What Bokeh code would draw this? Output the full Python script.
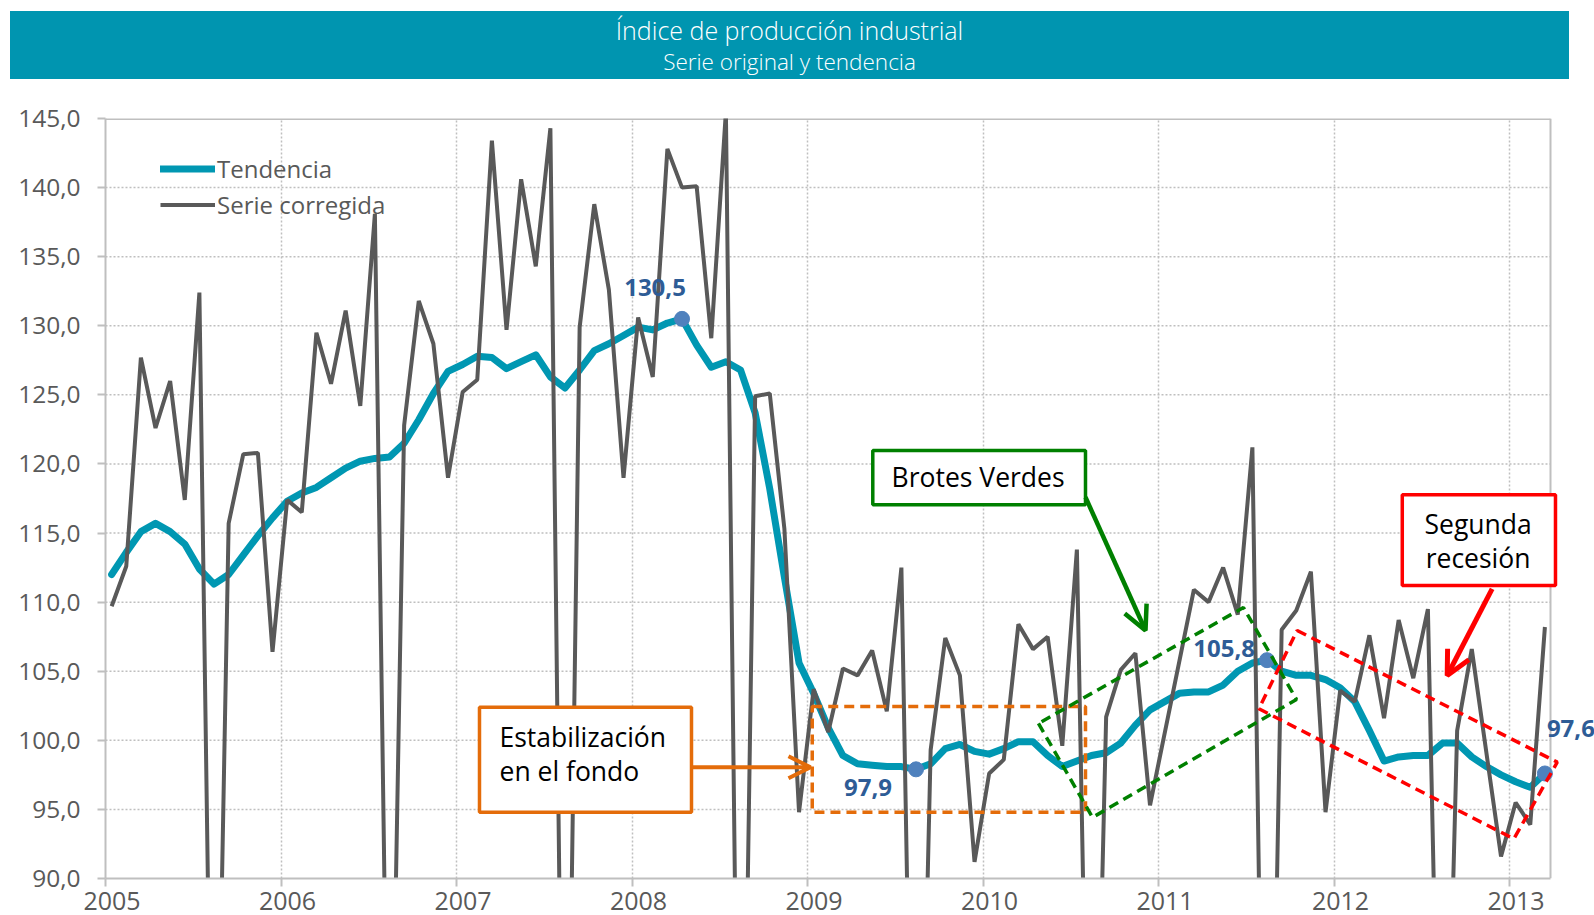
from bokeh.plotting import figure
from bokeh.models import (Range1d, FixedTicker, Legend, LegendItem, Arrow, OpenHead, Div, LinearAxis)
from bokeh.layouts import column
from bokeh.embed import file_html
from bokeh.resources import INLINE
from bokeh.core.properties import value

# ---------------- data ----------------
anios = [2005, 2006, 2007, 2008, 2009, 2010, 2011, 2012, 2013]
meses = [f"{a}-{m:02d}" for a in anios for m in range(1, 13)][:99]

serie_corregida = [
    109.7, 112.6, 127.7, 122.6, 126.0, 117.4, 132.4, 59.0, 115.7, 120.7, 120.8, 106.4,   # 2005
    117.4, 116.5, 129.5, 125.8, 131.1, 124.2, 138.1, 64.0, 122.8, 131.8, 128.7, 119.0,   # 2006
    125.2, 126.1, 143.4, 129.7, 140.6, 134.3, 144.3, 55.0, 129.9, 138.8, 132.6, 119.0,   # 2007
    130.6, 126.3, 142.8, 140.0, 140.1, 129.1, 145.5, 55.0, 124.9, 125.1, 115.3, 94.8,    # 2008
    103.7, 100.6, 105.2, 104.7, 106.5, 102.1, 112.5, 54.0, 99.3, 107.4, 104.7, 91.2,     # 2009
    97.6, 98.6, 108.4, 106.6, 107.5, 99.6, 113.8, 57.0, 101.7, 105.1, 106.3, 95.3,       # 2010
    100.5, 105.7, 110.9, 110.0, 112.5, 109.1, 121.2, 51.0, 108.0, 109.4, 112.2, 94.8,    # 2011
    103.6, 102.8, 107.6, 101.6, 108.7, 104.5, 109.5, 60.0, 100.7, 106.6, 99.1, 91.6,     # 2012
    95.5, 93.9, 108.2,                                                                   # 2013
]

tendencia = [
    112.0, 113.6, 115.1, 115.7, 115.1, 114.2, 112.4, 111.3, 112.0, 113.4, 114.8, 116.1,  # 2005
    117.3, 117.9, 118.3, 119.0, 119.7, 120.2, 120.4, 120.5, 121.5, 123.2, 125.1, 126.7,  # 2006
    127.2, 127.8, 127.7, 126.9, 127.4, 127.9, 126.3, 125.5, 126.8, 128.2, 128.7, 129.3,  # 2007
    129.9, 129.7, 130.2, 130.5, 128.6, 127.0, 127.4, 126.8, 123.7, 118.2, 111.8, 105.6,  # 2008
    103.4, 100.9, 98.9, 98.3, 98.2, 98.1, 98.1, 97.9, 98.3, 99.4, 99.7, 99.2,            # 2009
    99.0, 99.4, 99.9, 99.9, 98.9, 98.1, 98.5, 98.9, 99.1, 99.8, 101.1, 102.2,            # 2010
    102.8, 103.4, 103.5, 103.5, 104.0, 105.0, 105.6, 105.8, 105.0, 104.7, 104.7, 104.4,  # 2011
    103.8, 102.8, 100.7, 98.5, 98.8, 98.9, 98.9, 99.8, 99.8, 98.8, 98.1, 97.5,           # 2012
    97.0, 96.6, 97.6,                                                                    # 2013
]

etiquetas_idx = [39, 55, 79, 98]          # Abr-2008, Ago-2009, Ago-2011, Mar-2013
y_ticks = [90, 95, 100, 105, 110, 115, 120, 125, 130, 135, 140, 145]

# ---------------- geometry ----------------
pos = [int(s[:4]) + (int(s[5:7]) - 1 + 0.42) / 12 for s in meses]
X_END_FRAME = 2013.2336      # right border of the plot box
X_END_RANGE = 2013.4843      # frame extends to canvas edge
LABEL_SHIFT = 0.037          # year labels sit slightly right of the year ticks

FONT = value("Open Sans")
GRAY_TXT = "#595959"
AXIS_COL = "#BFBFBF"
TEAL = "#0097B2"

p = figure(width=1594, height=836,
           x_range=Range1d(2005, X_END_RANGE), y_range=Range1d(90, 145),
           output_backend="svg", toolbar_location=None,
           min_border_left=105, min_border_right=0, min_border_top=39, min_border_bottom=37)
p.outline_line_color = None
p.background_fill_color = "white"
p.border_fill_color = "white"

# grid
p.ygrid.visible = False
p.xgrid.ticker = FixedTicker(ticks=anios[1:])
p.xgrid.grid_line_color = AXIS_COL
p.xgrid.grid_line_dash = "2 2"
p.xgrid.grid_line_width = 1.5

hx = [[2005, X_END_FRAME] for v in y_ticks[1:-1]]
hy = [[v, v] for v in y_ticks[1:-1]]
p.multi_line(hx, hy, line_color=AXIS_COL, line_dash="2 2", line_width=1.5)
# box top / right
p.line([2005, X_END_FRAME], [145, 145], line_color=AXIS_COL, line_width=3)
p.line([X_END_FRAME, X_END_FRAME], [90, 145], line_color=AXIS_COL, line_width=2)

# x axis A: line + year ticks (no labels)
xa = p.xaxis[0]
xa.ticker = FixedTicker(ticks=anios)
xa.bounds = (2005, X_END_FRAME)
xa.major_label_overrides = {a: "" for a in anios}
xa.major_label_standoff = 0
# x axis B: year labels
xb = LinearAxis(ticker=FixedTicker(ticks=[a + LABEL_SHIFT for a in anios]),
                major_label_overrides={a + LABEL_SHIFT: str(a) for a in anios},
                axis_line_color=None, major_tick_line_color=None, minor_tick_line_color=None,
                major_tick_out=0, major_tick_in=0, major_label_standoff=5)
p.add_layout(xb, "below")

p.yaxis.ticker = FixedTicker(ticks=y_ticks)
p.yaxis.major_label_overrides = {v: f"{v:.1f}".replace(".", ",") for v in y_ticks}
for ax in (xa, p.yaxis[0]):
    ax.axis_line_color = AXIS_COL
    ax.axis_line_width = 2
    ax.major_tick_line_color = AXIS_COL
    ax.major_tick_line_width = 2
    ax.major_tick_out = 8
    ax.major_tick_in = 0
    ax.minor_tick_line_color = None
for ax in (xb, p.yaxis[0]):
    ax.major_label_text_font = "Open Sans"
    ax.major_label_text_color = GRAY_TXT
p.yaxis.major_label_text_font_size = "24.5px"
xb.major_label_text_font_size = "25px"
p.yaxis.major_label_standoff = 17

# series
r_tend = p.line(pos, tendencia, line_color=TEAL, line_width=7, line_join="round", line_cap="round")
r_serie = p.line(pos, serie_corregida, line_color=GRAY_TXT, line_width=4)

# highlighted points
px_ = [pos[i] for i in etiquetas_idx]
py_ = [tendencia[i] for i in etiquetas_idx]
p.scatter(px_, py_, size=15, color="#4F81BD")
lab_cfg = [(-27, -31, "center"), (-24, 18, "right"), (-12, -12, "right"), (2, -45, "left")]
for k, i in enumerate(etiquetas_idx):
    dx, dy, al = lab_cfg[k]
    p.text([pos[i]], [tendencia[i]], text=[f"{tendencia[i]:.1f}".replace(".", ",")],
           x_offset=dx, y_offset=dy, text_align=al, text_baseline="middle",
           text_font=FONT, text_font_style="bold", text_font_size="24px", text_color="#2E5C96")

# ---------------- annotations ----------------
ORANGE = "#E46C0A"
GREEN = "#008000"
RED = "#FF0000"
CALL_FS = "26.5px"

# orange
p.quad(left=[2009.027], right=[2010.584], top=[102.45], bottom=[94.80],
       fill_alpha=0, line_color=ORANGE, line_width=3.5, line_dash="10 6")
p.quad(left=[2007.131], right=[2008.339], top=[102.40], bottom=[94.80],
       fill_color="white", line_color=ORANGE, line_width=3.5)
p.text([2007.245, 2007.245], [100.25, 97.79], text=["Estabilización", "en el fondo"],
       text_align="left", text_baseline="middle", text_font=FONT, text_font_size=CALL_FS,
       text_color="black")
p.add_layout(Arrow(end=OpenHead(size=22, line_color=ORANGE, line_width=4),
                   x_start=2008.339, y_start=98.05, x_end=2009.017, y_end=98.05,
                   line_color=ORANGE, line_width=4))

# green
p.patch([2010.316, 2010.624, 2011.786, 2011.484], [101.22, 94.42, 102.96, 109.61],
        fill_alpha=0, line_color=GREEN, line_width=3.5, line_dash="10 6")
p.quad(left=[2009.372], right=[2010.584], top=[120.97], bottom=[117.04],
       fill_color="white", line_color=GREEN, line_width=3.5)
p.text([2009.972], [119.02], text=["Brotes Verdes"], text_align="center", text_baseline="middle",
       text_font=FONT, text_font_size=CALL_FS, text_color="black")
p.add_layout(Arrow(end=OpenHead(size=24, line_color=GREEN, line_width=4.5),
                   x_start=2010.584, y_start=117.59, x_end=2010.926, y_end=107.95,
                   line_color=GREEN, line_width=4.5))

# red
p.patch([2011.790, 2013.272, 2013.025, 2011.572], [107.95, 98.42, 92.87, 102.28],
        fill_alpha=0, line_color=RED, line_width=3.5, line_dash="10 6")
p.quad(left=[2012.389], right=[2013.262], top=[117.77], bottom=[111.20],
       fill_color="white", line_color=RED, line_width=3.5)
p.text([2012.821, 2012.821], [115.69, 113.23], text=["Segunda", "recesión"],
       text_align="center", text_baseline="middle", text_font=FONT, text_font_size=CALL_FS,
       text_color="black")
p.add_layout(Arrow(end=OpenHead(size=24, line_color=RED, line_width=5),
                   x_start=2012.901, y_start=110.96, x_end=2012.645, y_end=104.69,
                   line_color=RED, line_width=5))

# legend (location measured from the frame's bottom-left corner)
legend = Legend(items=[LegendItem(label="Tendencia", renderers=[r_tend]),
                       LegendItem(label="Serie corregida", renderers=[r_serie])],
                location=(55, 657), orientation="vertical",
                glyph_width=55, glyph_height=33, label_height=33, spacing=3,
                label_standoff=2, padding=0, margin=0,
                label_text_font="Open Sans", label_text_font_size="24px",
                label_text_color=GRAY_TXT,
                background_fill_alpha=0, border_line_color=None)
p.add_layout(legend)

# title bar
html = ("<div style='width:1559px;height:68px;background:#0095B0;color:#FFFFFF;"
        "text-align:center;font-family:\"Open Sans\";font-weight:300;'>"
        "<div style='padding-top:4px;font-size:25px;line-height:31px;'>"
        "Índice de producción industrial</div>"
        "<div style='font-size:22.5px;line-height:31px;'>Serie original y tendencia</div></div>")
titulo = Div(text=html, width=1559, height=68, margin=(11, 0, 0, 10))

layout = column(titulo, p, spacing=0)
open("out.html", "w").write(file_html(layout, INLINE))
